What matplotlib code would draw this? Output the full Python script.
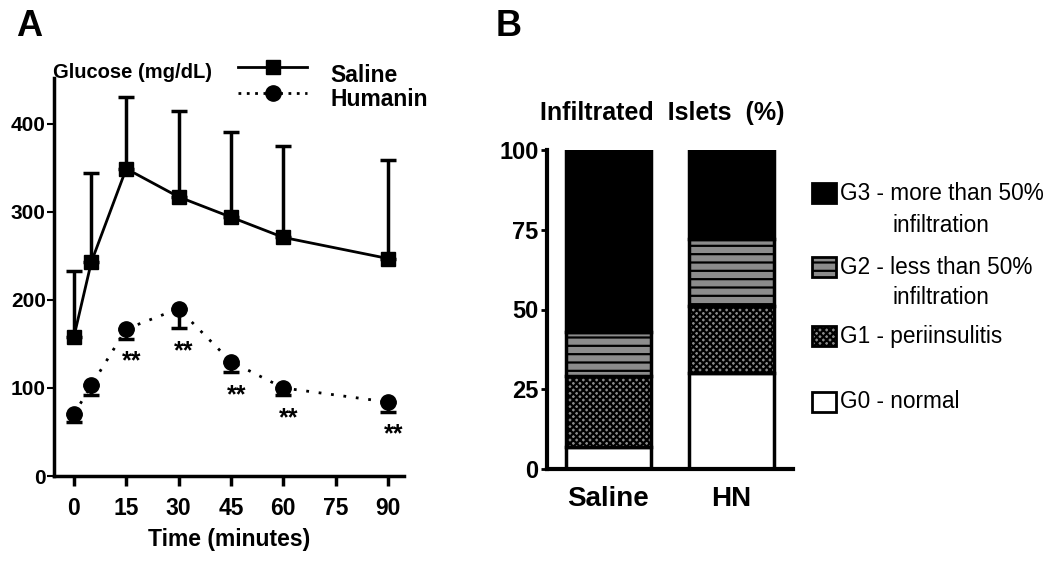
import numpy as np
import matplotlib.pyplot as plt
from matplotlib.lines import Line2D
from matplotlib.patches import Rectangle

plt.rcParams['font.family'] = ['Liberation Sans', 'DejaVu Sans']
plt.rcParams['hatch.linewidth'] = 1.6

# Panel A data: glucose tolerance test
time_min = [0, 5, 15, 30, 45, 60, 90]
saline_glu = [158, 243, 349, 317, 294, 271, 247]
saline_err = [75, 101, 81, 97, 97, 104, 112]
humanin_glu = [70, 103, 167, 190, 130, 100, 84]
humanin_err = [9, 11, 11, 22, 12, 8, 11]
signif = [False, False, True, True, True, True, True]
xticks_a = [0, 15, 30, 45, 60, 75, 90]
yticks_a = [0, 100, 200, 300, 400]

# Panel B data: insulitis score (%)
groups = ['Saline', 'HN']
g0 = [7, 30]
g1 = [22, 21]
g2 = [14, 21]
g3 = [57, 28]
yticks_b = [0, 25, 50, 75, 100]

W, H = 1050, 561
fig = plt.figure(figsize=(10.5, 5.61), dpi=100)


def fx(px):
    return px / W


def fy(py):
    return 1 - py / H


# ---------------- Panel A ----------------
ax = fig.add_axes([fx(54), fy(476), 350 / W, 398 / H])
ax.plot(time_min, saline_glu, '-', color='black', lw=2, marker='s', ms=10, zorder=3)
ax.errorbar(time_min, saline_glu, yerr=[np.zeros(len(saline_err)), saline_err],
            fmt='none', ecolor='black', elinewidth=2.5, capsize=6, capthick=2.5)
ax.plot(time_min, humanin_glu, color='black', lw=2, dashes=(1, 3.5),
        marker='o', ms=11, zorder=3)
ax.errorbar(time_min, humanin_glu, yerr=[humanin_err, np.zeros(len(humanin_err))],
            fmt='none', ecolor='black', elinewidth=2.5, capsize=6, capthick=2.5)
for t, m, e, s in zip(time_min, humanin_glu, humanin_err, signif):
    if s:
        ax.text(t + 1.5, m - e - 26, '**', ha='center', va='center',
                fontsize=18, fontweight='bold')

ax.set_xlim(-5.7, 94.6)
ax.set_ylim(0, 452)
ax.set_xticks(xticks_a)
ax.set_yticks(yticks_a)
ax.set_xticklabels([str(v) for v in xticks_a], fontsize=16.5, fontweight='bold')
ax.set_yticklabels([str(v) for v in yticks_a], fontsize=15, fontweight='bold')
ax.tick_params(axis='x', length=7, width=2.5, pad=8)
ax.tick_params(axis='y', length=5, width=1.5, pad=1)
for sp in ['top', 'right']:
    ax.spines[sp].set_visible(False)
for sp in ['left', 'bottom']:
    ax.spines[sp].set_linewidth(2.5)
ax.set_xlabel('Time (minutes)', fontsize=16.5, fontweight='bold', labelpad=6)

fig.text(fx(53), fy(72), 'Glucose (mg/dL)', fontsize=14.5, fontweight='bold', va='center')
fig.text(fx(16), fy(27), 'A', fontsize=26, fontweight='bold', va='center')

# legend for panel A
fig.add_artist(Line2D([fx(238), fx(307)], [fy(67), fy(67)], color='black', lw=2))
fig.add_artist(Line2D([fx(273)], [fy(67)], color='black', marker='s', ms=10))
fig.add_artist(Line2D([fx(238), fx(307)], [fy(93), fy(93)], color='black', lw=2,
                      dashes=(1, 2)))
fig.add_artist(Line2D([fx(273)], [fy(93)], color='black', marker='o', ms=11))
fig.text(fx(330), fy(75), 'Saline', fontsize=16.5, fontweight='bold', va='center')
fig.text(fx(330), fy(99), 'Humanin', fontsize=16.5, fontweight='bold', va='center')

# ---------------- Panel B ----------------
bx = fig.add_axes([fx(547), fy(469), 246 / W, 319 / H])
xpos = np.arange(len(groups))
bw = 0.69
styles = [
    dict(facecolor='white', hatch=None),
    dict(facecolor='#8a8a8a', hatch='xxxxx'),
    dict(facecolor='#8c8c8c', hatch='--'),
    dict(facecolor='black', hatch=None),
]
bottom = np.zeros(len(groups))
for vals, st in zip([g0, g1, g2, g3], styles):
    bx.bar(xpos, vals, bw, bottom=bottom, facecolor=st['facecolor'],
           edgecolor='black', linewidth=2.5, hatch=st['hatch'])
    bottom += np.array(vals)

bx.set_xlim(-0.5, 1.5)
bx.set_ylim(0, 100)
bx.set_xticks(xpos)
bx.set_xticklabels(groups, fontsize=20, fontweight='bold')
bx.set_yticks(yticks_b)
bx.set_yticklabels([str(v) for v in yticks_b], fontsize=17, fontweight='bold')
bx.tick_params(axis='x', length=0, pad=12)
bx.tick_params(axis='y', length=4, width=2, pad=2)
for sp in ['top', 'right']:
    bx.spines[sp].set_visible(False)
for sp in ['left', 'bottom']:
    bx.spines[sp].set_linewidth(3)

fig.text(fx(540), fy(113), 'Infiltrated  Islets  (%)', fontsize=18, fontweight='bold', va='center')
fig.text(fx(496), fy(27), 'B', fontsize=26, fontweight='bold', va='center')

# legend for panel B
leg_items = [
    (193, styles[3], 'G3 - more than 50%', 'infiltration', 226),
    (267, styles[2], 'G2 - less than 50%', 'infiltration', 298),
    (336, styles[1], 'G1 - periinsulitis', None, None),
    (402, styles[0], 'G0 - normal', None, None),
]
for yc, st, lab, lab2, y2 in leg_items:
    fig.add_artist(Rectangle((fx(812), fy(yc + 10)), 24 / W, 20 / H,
                             transform=fig.transFigure, facecolor=st['facecolor'],
                             edgecolor='black', linewidth=2, hatch=st['hatch']))
    fig.text(fx(840), fy(yc), lab, fontsize=16.3, va='center')
    if lab2:
        fig.text(fx(893), fy(y2), lab2, fontsize=16.3, va='center')

fig.savefig('out.png', dpi=100)
